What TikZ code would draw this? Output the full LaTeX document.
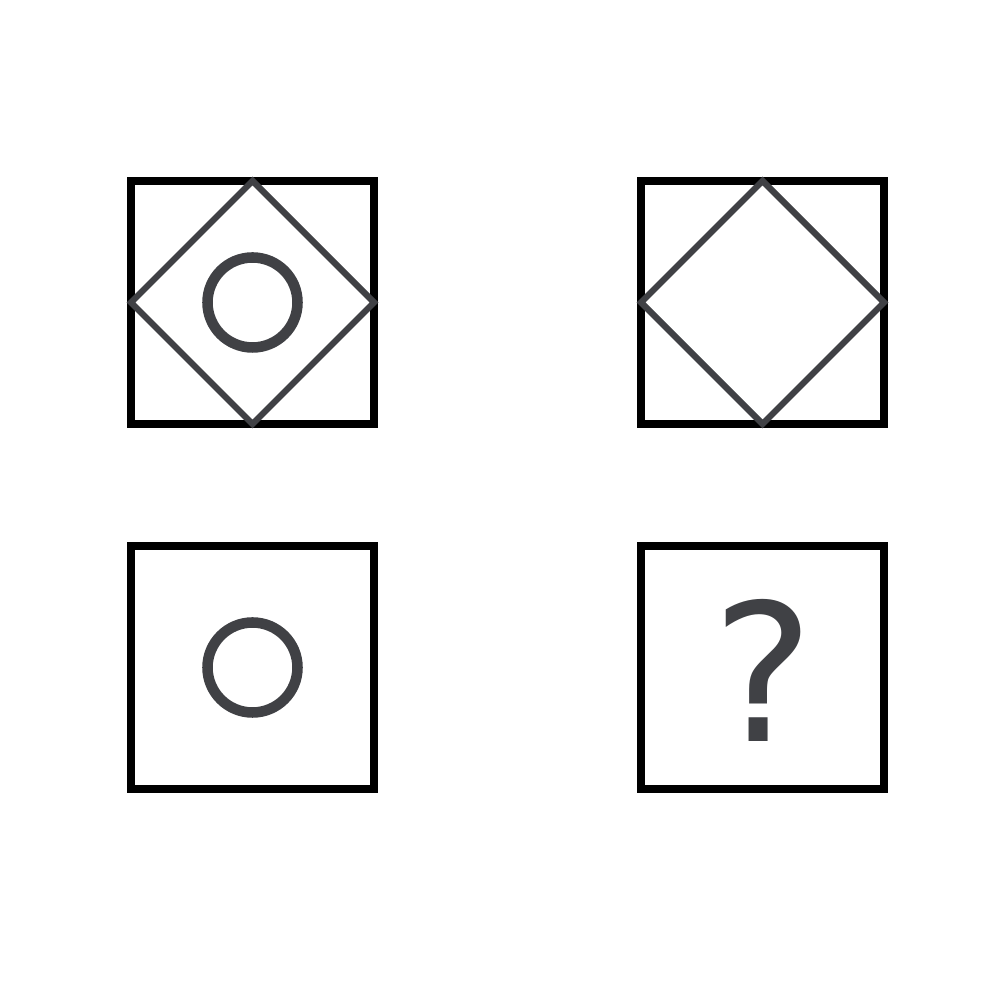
\documentclass[tikz,border=0pt]{standalone}
\usepackage{fontspec}
\newfontfamily\qfont{DejaVu Sans}
\definecolor{qqqqqq}{rgb}{0.,0.,0.}
\definecolor{sqsqsq}{rgb}{0.25,0.255,0.27}
\begin{document}
\begin{tikzpicture}[line cap=butt,line join=miter,x=1.0cm,y=1.0cm]
\useasboundingbox (0,0) rectangle (10,10);
\draw [line width=2.2pt,color=qqqqqq] (1.31,5.76) rectangle (3.74,8.19);
\draw [line width=2.2pt,color=qqqqqq] (6.41,5.76) rectangle (8.84,8.19);
\draw [line width=2.2pt,color=qqqqqq] (1.31,2.11) rectangle (3.74,4.54);
\draw [line width=2.2pt,color=qqqqqq] (6.41,2.11) rectangle (8.84,4.54);
\draw [line width=1.8pt,color=sqsqsq] (2.525,8.19) -- (3.74,6.975) -- (2.525,5.76) -- (1.31,6.975) -- cycle;
\draw [line width=1.8pt,color=sqsqsq] (7.625,8.19) -- (8.84,6.975) -- (7.625,5.76) -- (6.41,6.975) -- cycle;
\draw [line width=3pt,color=sqsqsq] (2.525,6.975) circle (0.45);
\draw [line width=3pt,color=sqsqsq] (2.525,3.325) circle (0.45);
\node (query) [anchor=base,inner sep=0pt,color=sqsqsq,font=\qfont\fontsize{54.5}{60}\selectfont] at (7.63,2.58) {?};
\end{tikzpicture}
\end{document}
